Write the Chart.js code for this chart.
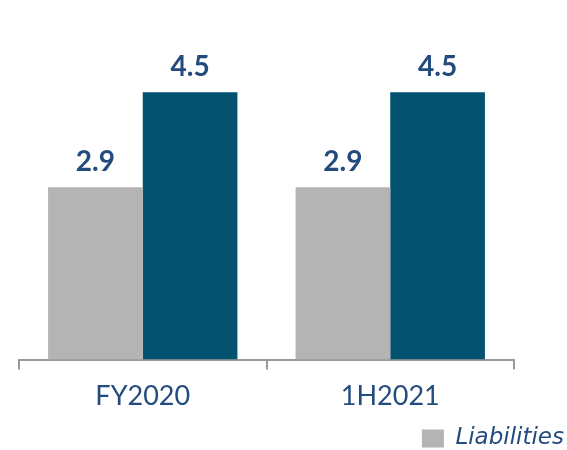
<!DOCTYPE html>
<html>
<head>
<meta charset="utf-8">
<style>
  html, body { margin: 0; padding: 0; background: #fff; }
  #wrap { width: 567px; height: 450px; }
</style>
<script src="https://cdn.jsdelivr.net/npm/chart.js@4/dist/chart.umd.min.js"></script>
</head>
<body>
<div id="wrap"><canvas id="liabChart" width="567" height="450"></canvas></div>
<script>
  // data
  const categories = ['FY2020', '1H2021'];
  const liabilities = [2.9, 2.9];
  const otherSeries = [4.5, 4.5];
  const seriesNames = ['Liabilities', 'Total'];

  const textBlue = '#234B7E';
  const greyBar = '#B3B4B3';
  const tealBar = '#025270';
  const axisGrey = '#9A9A9A';

  // value labels above each bar
  const valueLabels = {
    id: 'valueLabels',
    afterDatasetsDraw(chart) {
      const ctx = chart.ctx;
      ctx.save();
      ctx.font = 'bold 28px Lato';
      ctx.fillStyle = textBlue;
      ctx.textAlign = 'center';
      ctx.textBaseline = 'alphabetic';
      chart.data.datasets.forEach((ds, i) => {
        chart.getDatasetMeta(i).data.forEach((bar, j) => {
          ctx.fillText(ds.data[j].toFixed(1), bar.x, bar.y - 16);
        });
      });
      ctx.restore();
    }
  };

  const ctx = document.getElementById('liabChart').getContext('2d');
  const liabChart = new Chart(ctx, {
    type: 'bar',
    data: {
      labels: categories,
      datasets: [{
        label: seriesNames[0],
        data: liabilities,
        backgroundColor: greyBar,
        categoryPercentage: 0.765,
        barPercentage: 1
      }, {
        label: seriesNames[1],
        data: otherSeries,
        backgroundColor: tealBar,
        categoryPercentage: 0.765,
        barPercentage: 1
      }]
    },
    options: {
      responsive: false,
      animation: false,
      layout: { padding: { top: 3, right: 0, bottom: -10, left: 0 } },
      plugins: {
        tooltip: { enabled: false },
        legend: {
          position: 'bottom',
          align: 'end',
          labels: {
            filter: (item) => item.datasetIndex === 0,
            boxWidth: 22,
            boxHeight: 18,
            color: textBlue,
            font: { family: 'DejaVu Sans', size: 23, style: 'italic' },
            padding: 3
          }
        }
      },
      scales: {
        x: {
          grid: {
            display: true,
            drawOnChartArea: false,
            drawTicks: true,
            tickLength: 10,
            color: axisGrey,
            lineWidth: 2
          },
          border: { display: true, color: axisGrey, width: 2 },
          ticks: {
            color: textBlue,
            font: { family: 'Lato', size: 27, lineHeight: 1.35 },
            padding: 9
          }
        },
        y: {
          min: 0,
          max: 6,
          grid: { display: false },
          border: { display: false },
          ticks: { display: false },
          afterFit: (s) => { s.width = 19; }
        },
        yRight: {
          position: 'right',
          min: 0,
          max: 6,
          grid: { display: false },
          border: { display: false },
          ticks: { display: false },
          afterFit: (s) => { s.width = 53; }
        }
      }
    },
    plugins: [valueLabels]
  });
</script>
</body>
</html>
